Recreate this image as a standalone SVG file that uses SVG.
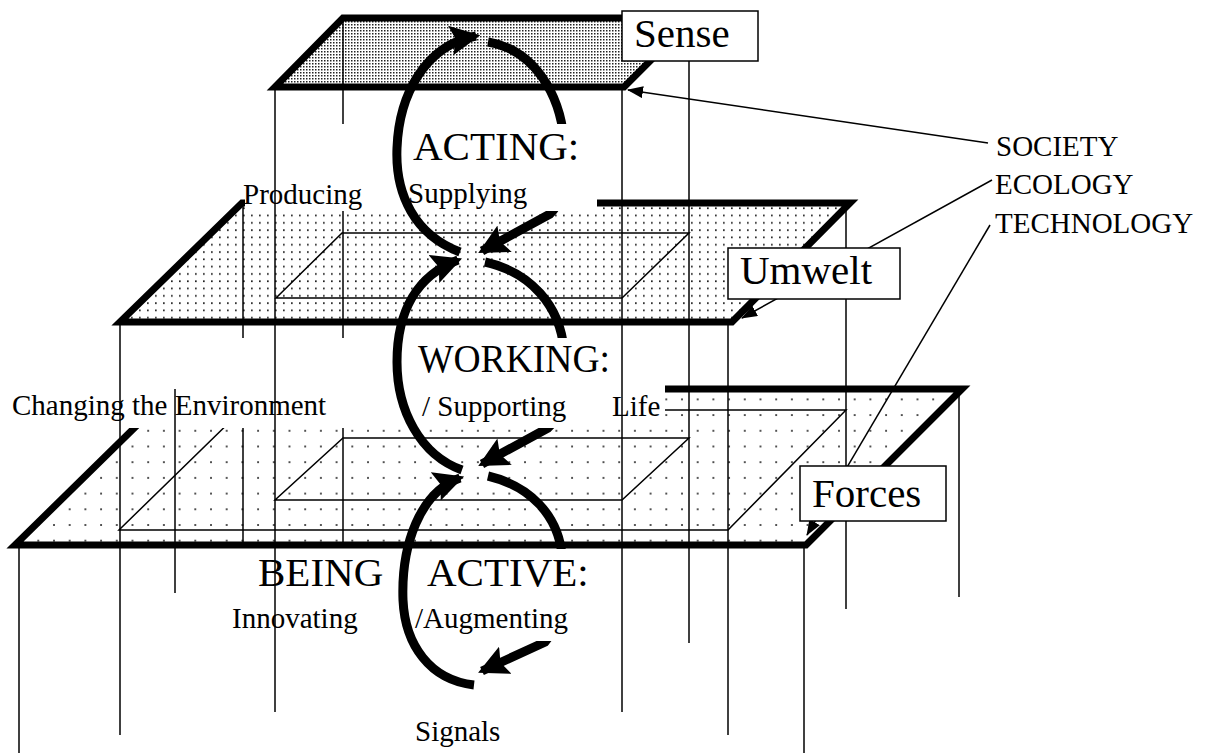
<svg xmlns="http://www.w3.org/2000/svg" width="1218" height="753" viewBox="0 0 1218 753">
<style>
.plane{stroke:#000;stroke-width:7;stroke-linejoin:miter}
.thin{stroke:#000;stroke-width:1.5;fill:none}
.arc{stroke:#000;stroke-width:9;fill:none;stroke-linecap:butt}
.lead{stroke:#000;stroke-width:1.5;fill:none}
.box{fill:#fff;stroke:#000;stroke-width:1.5}
.wbox{fill:#fff;stroke:none}
.big{font-family:"Liberation Serif","Times New Roman",serif;font-size:41px;fill:#000}
.sm{font-family:"Liberation Serif","Times New Roman",serif;font-size:29px;fill:#000}
</style>
<defs>
<pattern id="dTop" width="3" height="3" patternUnits="userSpaceOnUse"><rect width="1.5" height="1.5" fill="#222"/></pattern>
<pattern id="dMid" width="8" height="7.3" patternUnits="userSpaceOnUse"><rect x="3" y="3" width="1.7" height="1.7" fill="#222"/></pattern>
<pattern id="dBot" width="15.7" height="15.7" patternUnits="userSpaceOnUse"><rect x="6" y="6" width="1.8" height="1.8" fill="#333"/></pattern>
<marker id="bigHead" markerUnits="userSpaceOnUse" markerWidth="30" markerHeight="30" viewBox="0 0 28 28" refX="24" refY="14" orient="auto"><path d="M0,0 L28,14 L0,28 L5,14 Z" fill="#000"/></marker>
<marker id="smHead" markerUnits="userSpaceOnUse" markerWidth="16" markerHeight="12" viewBox="0 0 16 12" refX="15" refY="6" orient="auto"><path d="M0,0 L16,6 L0,12 Z" fill="#000"/></marker>
</defs>
<rect width="1218" height="753" fill="#fff"/>

<g id="forces-plane">
<polygon class="plane" fill="url(#dBot)" points="174,389 962,389 806,545 15,545"/>
<path class="thin" d="M242,410 L846,410 L728,530 L119,530 Z"/>
<path class="thin" d="M343,438 L689,438 L622,500 L275,500 Z"/>
</g>
<g id="umwelt-plane">
<polygon class="plane" fill="url(#dMid)" points="242,203 850,203 732,322 120,322"/>
<path class="thin" d="M342,233 L689,233 L622,298 L276,298 Z"/>
</g>
<g id="sense-plane">
<polygon class="plane" fill="url(#dTop)" points="343,18 693,18 624,87 275,87"/>
</g>

<g id="pillars-back" class="thin">
<line x1="243" y1="203" x2="243" y2="545"/>
<line x1="343" y1="18" x2="343" y2="545"/>
</g>

<g id="connectors">
<path class="arc" d="M488,42 C535,50 560,95 564,140 C568,180 562,203 550,214 L482,251" marker-end="url(#bigHead)"/>
<path class="arc" d="M485,262 C530,272 560,305 564,350 C568,390 562,415 548,428 L482,464" marker-end="url(#bigHead)"/>
<path class="arc" d="M488,476 C530,486 558,515 562,555 C566,595 560,625 545,642 L482,671" marker-end="url(#bigHead)"/>
</g>

<g id="acting">
<rect class="wbox" x="245" y="124" width="352" height="87"/>
<text class="big" x="413" y="160" font-size="42">ACTING:</text>
<text class="sm" x="243" y="204">Producing</text>
<text class="sm" x="408" y="203" font-size="28">Supplying</text>
</g>
<g id="working">
<rect class="wbox" x="0" y="338" width="665" height="90"/>
<text class="big" x="418" y="372" textLength="192" lengthAdjust="spacingAndGlyphs">WORKING:</text>
<text class="sm" x="422" y="416">/ Supporting</text>
<text class="sm" x="612" y="416">Life</text>
<text class="sm" x="12" y="415">Changing the Environment</text>
</g>
<g id="being-active">
<rect class="wbox" x="230" y="549" width="362" height="92"/>
<text class="big" x="258" y="586">BEING</text>
<text class="big" x="427" y="586">ACTIVE:</text>
<text class="sm" x="232" y="628">Innovating</text>
<text class="sm" x="415" y="628">/Augmenting</text>
</g>

<g id="pillars" class="thin">
<line x1="19" y1="545" x2="19" y2="753"/>
<line x1="120" y1="322" x2="120" y2="735"/>
<line x1="175" y1="389" x2="175" y2="593"/>
<line x1="275" y1="87" x2="275" y2="712"/>
<line x1="622" y1="87" x2="622" y2="712"/>
<line x1="689" y1="18" x2="689" y2="643"/>
<line x1="728" y1="322" x2="728" y2="735"/>
<line x1="804" y1="545" x2="804" y2="753"/>
<line x1="846" y1="203" x2="846" y2="609"/>
<line x1="959" y1="389" x2="959" y2="597"/>
</g>

<g id="cycle-left">
<path class="arc" d="M460,252 C415,235 395,195 397,148 C399,95 425,45 476,36" marker-end="url(#bigHead)"/>
<path class="arc" d="M462,470 C420,455 397,410 397,362 C397,310 418,275 458,260" marker-end="url(#bigHead)"/>
<path class="arc" d="M474,685 C430,680 405,645 403,600 C401,545 420,492 460,478" marker-end="url(#bigHead)"/>
</g>

<g id="leaders">
<line class="lead" x1="988" y1="143" x2="628" y2="90" marker-end="url(#smHead)"/>
<line class="lead" x1="992" y1="180" x2="742" y2="318" marker-end="url(#smHead)"/>
<line class="lead" x1="990" y1="225" x2="807" y2="535" marker-end="url(#smHead)"/>
</g>

<g id="sense">
<rect class="box" x="622" y="11" width="136" height="50"/>
<text class="big" x="634" y="47" font-size="43">Sense</text>
</g>
<g id="umwelt">
<rect class="box" x="728" y="248" width="172" height="51"/>
<text class="big" x="740" y="284">Umwelt</text>
</g>
<g id="forces">
<rect class="box" x="800" y="466" width="146" height="55"/>
<text class="big" x="812" y="507" font-size="43">Forces</text>
</g>
<g id="forces-list">
<text class="sm" x="996" y="156" font-size="30">SOCIETY</text>
<text class="sm" x="995" y="194" font-size="30">ECOLOGY</text>
<text class="sm" x="995" y="233" font-size="30">TECHNOLOGY</text>
</g>
<g id="signals">
<text class="sm" x="415" y="741">Signals</text>
</g>
</svg>
